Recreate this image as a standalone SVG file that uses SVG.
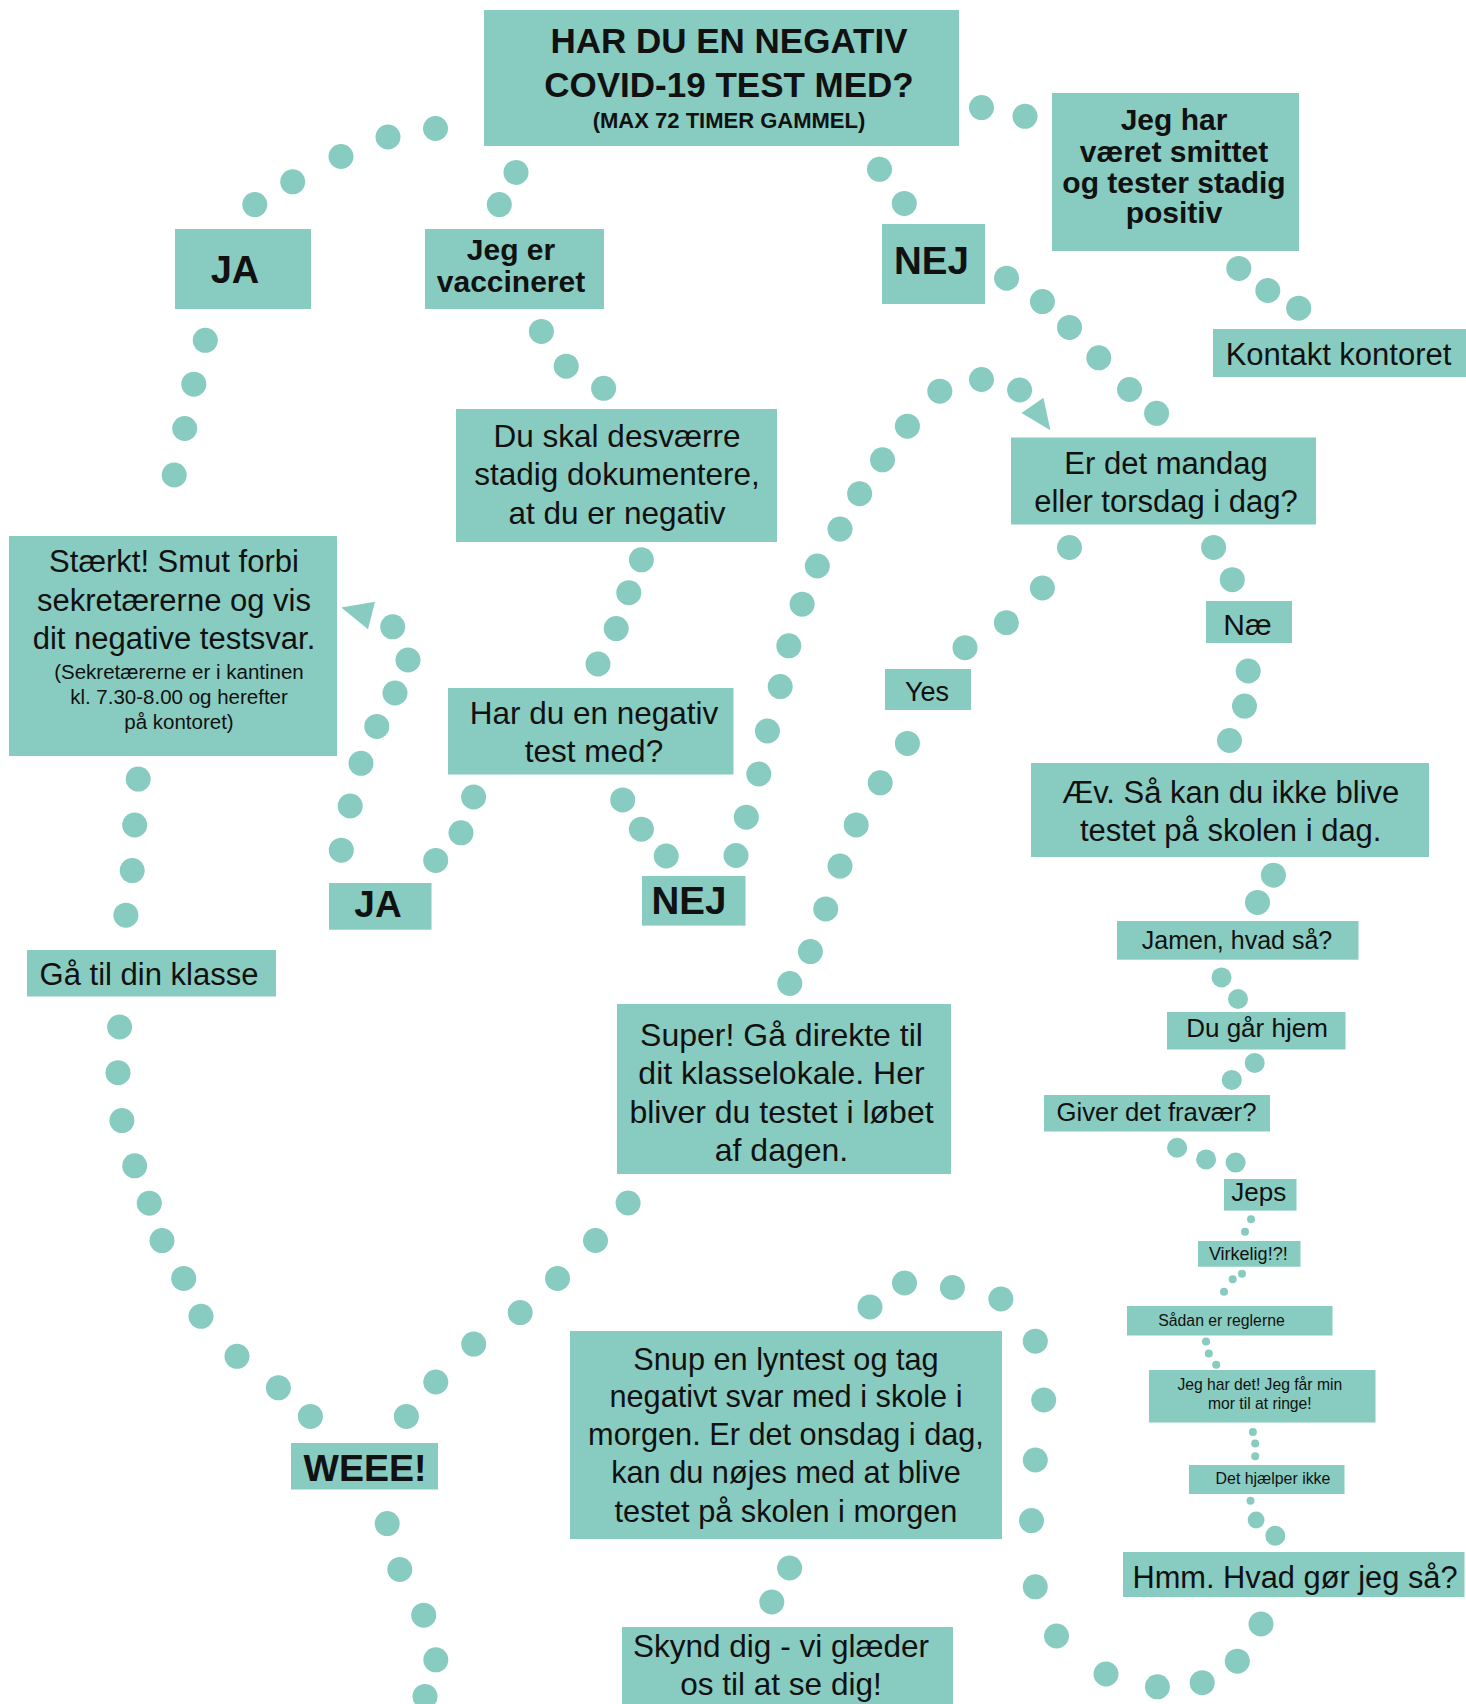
<svg xmlns="http://www.w3.org/2000/svg" width="1466" height="1704" viewBox="0 0 1466 1704">
<style>
.box{fill:#88cbc0}
.d{fill:#88cbc0}
text{font-family:"Liberation Sans",Arial,sans-serif;fill:#111;text-anchor:middle}
.b{font-weight:bold}
</style>
<rect width="1466" height="1704" fill="#fff"/>
<g id="connectors">
<g class="d">
<circle cx="254.8" cy="204.6" r="12.5"/><circle cx="292.7" cy="181.8" r="12.5"/><circle cx="341" cy="156.5" r="12.5"/><circle cx="388" cy="137" r="12.5"/><circle cx="435.5" cy="128.5" r="12.5"/>
<circle cx="205.3" cy="340.3" r="12.5"/><circle cx="193.8" cy="384.2" r="12.5"/><circle cx="184.7" cy="428.5" r="12.5"/><circle cx="174.2" cy="475" r="12.5"/>
<circle cx="516" cy="172.4" r="12.5"/><circle cx="499.3" cy="204.6" r="12.5"/>
<circle cx="541.4" cy="331.4" r="12.5"/><circle cx="566.2" cy="366.2" r="12.5"/><circle cx="603.6" cy="388.3" r="12.5"/>
<circle cx="641.4" cy="559.8" r="12.5"/><circle cx="628.8" cy="592.7" r="12.5"/><circle cx="616.2" cy="628.6" r="12.5"/><circle cx="598" cy="664" r="12.5"/>
<circle cx="473.6" cy="797" r="12.5"/><circle cx="461" cy="832.8" r="12.5"/><circle cx="435.7" cy="860.4" r="12.5"/>
<circle cx="341.3" cy="850.2" r="12.5"/><circle cx="350.2" cy="806" r="12.5"/><circle cx="361" cy="763.3" r="12.5"/><circle cx="376.8" cy="726.4" r="12.5"/><circle cx="395" cy="693" r="12.5"/><circle cx="408" cy="660" r="12.5"/><circle cx="392.7" cy="626.8" r="12.5"/>
<circle cx="622.7" cy="799.9" r="12.5"/><circle cx="641.4" cy="829.2" r="12.5"/><circle cx="666.2" cy="856" r="12.5"/>
<circle cx="736" cy="855.5" r="12.5"/><circle cx="746.3" cy="817.2" r="12.5"/><circle cx="758.8" cy="774" r="12.5"/><circle cx="767.4" cy="731" r="12.5"/><circle cx="780.2" cy="686.6" r="12.5"/><circle cx="788.8" cy="645.8" r="12.5"/><circle cx="802.1" cy="604.2" r="12.5"/><circle cx="817.3" cy="566" r="12.5"/><circle cx="840" cy="529.1" r="12.5"/><circle cx="859.6" cy="493.7" r="12.5"/><circle cx="882.5" cy="459.8" r="12.5"/><circle cx="907.4" cy="426.2" r="12.5"/><circle cx="939.8" cy="391.2" r="12.5"/><circle cx="981.5" cy="379.5" r="12.5"/><circle cx="1019.6" cy="390" r="12.5"/>
<circle cx="138.2" cy="779.1" r="12.5"/><circle cx="134.7" cy="825" r="12.5"/><circle cx="132.2" cy="870.6" r="12.5"/><circle cx="125.9" cy="915.2" r="12.5"/>
<circle cx="981.5" cy="107.6" r="12.5"/><circle cx="1025" cy="116.3" r="12.5"/>
<circle cx="879.5" cy="169.3" r="12.5"/><circle cx="904.3" cy="203.4" r="12.5"/>
<circle cx="1238.8" cy="268.4" r="12.5"/><circle cx="1267.8" cy="290.5" r="12.5"/><circle cx="1298.7" cy="308.2" r="12.5"/>
<circle cx="1006.6" cy="278.2" r="12.5"/><circle cx="1042.4" cy="301.6" r="12.5"/><circle cx="1069.5" cy="327.4" r="12.5"/><circle cx="1098.8" cy="357.8" r="12.5"/><circle cx="1129.5" cy="389.5" r="12.5"/><circle cx="1156.6" cy="413.3" r="12.5"/>
<circle cx="1069.5" cy="547.5" r="12.5"/><circle cx="1042.4" cy="588" r="12.5"/><circle cx="1006.4" cy="622.7" r="12.5"/><circle cx="965" cy="647.7" r="12.5"/>
<circle cx="907.4" cy="743.4" r="12.5"/><circle cx="880.2" cy="782.8" r="12.5"/><circle cx="856.2" cy="824.9" r="12.5"/><circle cx="840" cy="866.1" r="12.5"/><circle cx="825.7" cy="908.9" r="12.5"/><circle cx="810.4" cy="951.6" r="12.5"/><circle cx="789.8" cy="983.5" r="12.5"/>
<circle cx="1213.6" cy="547.4" r="12.5"/><circle cx="1232.3" cy="579.7" r="12.5"/>
<circle cx="1248.2" cy="671" r="12.5"/><circle cx="1244.5" cy="706.1" r="12.5"/><circle cx="1229.5" cy="740.5" r="12.5"/>
<circle cx="1273.4" cy="875.2" r="12.5"/><circle cx="1257.5" cy="902.4" r="12.5"/>
<circle cx="628.1" cy="1203" r="12.5"/><circle cx="595.5" cy="1240.5" r="12.5"/><circle cx="557.5" cy="1278.5" r="12.5"/><circle cx="520.2" cy="1312.6" r="12.5"/><circle cx="473.7" cy="1344.1" r="12.5"/><circle cx="435.8" cy="1382" r="12.5"/><circle cx="406.4" cy="1416.4" r="12.5"/>
<circle cx="119.6" cy="1027" r="12.5"/><circle cx="118" cy="1072.7" r="12.5"/><circle cx="121.9" cy="1120.6" r="12.5"/><circle cx="134.7" cy="1165.8" r="12.5"/><circle cx="149.3" cy="1203.2" r="12.5"/><circle cx="162" cy="1240.6" r="12.5"/><circle cx="183.7" cy="1278.4" r="12.5"/><circle cx="201" cy="1316.3" r="12.5"/><circle cx="237" cy="1356.3" r="12.5"/><circle cx="278.4" cy="1387.8" r="12.5"/><circle cx="310.4" cy="1416.4" r="12.5"/>
<circle cx="387.2" cy="1523.6" r="12.5"/><circle cx="399.8" cy="1569.5" r="12.5"/><circle cx="423.7" cy="1615.2" r="12.5"/><circle cx="435.8" cy="1659.8" r="12.5"/><circle cx="425" cy="1696.4" r="12.5"/>
<circle cx="1261" cy="1624" r="12.5"/><circle cx="1237.3" cy="1661.2" r="12.5"/><circle cx="1202.2" cy="1682.7" r="12.5"/><circle cx="1157.4" cy="1686.8" r="12.5"/><circle cx="1106" cy="1674" r="12.5"/><circle cx="1056.5" cy="1636" r="12.5"/><circle cx="1035.3" cy="1586.8" r="12.5"/><circle cx="1031.5" cy="1520.6" r="12.5"/><circle cx="1035.3" cy="1460" r="12.5"/><circle cx="1043.7" cy="1400" r="12.5"/><circle cx="1035.3" cy="1341.2" r="12.5"/><circle cx="1000.9" cy="1299" r="12.5"/><circle cx="952.4" cy="1287.5" r="12.5"/><circle cx="904.5" cy="1283" r="12.5"/><circle cx="870" cy="1307" r="12.5"/>
<circle cx="789.6" cy="1568" r="12.5"/><circle cx="771.8" cy="1602" r="12.5"/>
<circle cx="1221.5" cy="977.4" r="10"/><circle cx="1238" cy="999" r="10"/>
<circle cx="1254.7" cy="1062.9" r="10"/><circle cx="1231.8" cy="1079.9" r="10"/>
<circle cx="1177.1" cy="1147.7" r="10"/><circle cx="1206.1" cy="1159.4" r="10"/><circle cx="1235.6" cy="1162.6" r="10"/>
<circle cx="1251" cy="1219.3" r="4"/><circle cx="1245" cy="1231.7" r="4"/>
<circle cx="1242" cy="1273.7" r="4"/><circle cx="1232.7" cy="1279.3" r="4"/><circle cx="1224" cy="1291.7" r="4"/>
<circle cx="1206" cy="1341.5" r="4"/><circle cx="1208.8" cy="1353.4" r="4"/><circle cx="1216.2" cy="1364.8" r="4"/>
<circle cx="1252.9" cy="1432" r="4"/><circle cx="1255.2" cy="1443.6" r="4"/><circle cx="1255.2" cy="1456.2" r="4"/>
<circle cx="1250.5" cy="1500.7" r="4"/><circle cx="1256.1" cy="1520" r="8.4"/><circle cx="1275.3" cy="1535.7" r="10"/>
</g>
<polygon class="d" points="1021.5,412.9 1043.4,397.7 1050.4,430.3"/>
<polygon class="d" points="341.3,607.6 375,601.8 368,629.3"/>
</g>
<g id="n-title"><rect class="box" x="484" y="10" width="475" height="136"/>
<text class="b" x="729" y="53" font-size="35">HAR DU EN NEGATIV</text>
<text class="b" x="729" y="97" font-size="35">COVID-19 TEST MED?</text>
<text class="b" x="729" y="128" font-size="22">(MAX 72 TIMER GAMMEL)</text></g>
<g id="n-ja1"><rect class="box" x="175" y="229" width="136" height="80"/>
<text class="b" x="235" y="282.5" font-size="38">JA</text></g>
<g id="n-vacc"><rect class="box" x="425" y="229" width="179" height="80"/>
<text class="b" x="511" y="260" font-size="30">Jeg er</text>
<text class="b" x="511" y="291.5" font-size="30">vaccineret</text></g>
<g id="n-nej1"><rect class="box" x="882" y="224" width="103" height="80"/>
<text class="b" x="931.5" y="274" font-size="38.5">NEJ</text></g>
<g id="n-smittet"><rect class="box" x="1052" y="93" width="247" height="158"/>
<text class="b" x="1174" y="130" font-size="30">Jeg har</text>
<text class="b" x="1174" y="161.5" font-size="30">været smittet</text>
<text class="b" x="1174" y="192.5" font-size="30">og tester stadig</text>
<text class="b" x="1174" y="223" font-size="30">positiv</text></g>
<g id="n-kontakt"><rect class="box" x="1213" y="329" width="253" height="48"/>
<text x="1338.5" y="365" font-size="31">Kontakt kontoret</text></g>
<g id="n-duskal"><rect class="box" x="456" y="409" width="321" height="133"/>
<text x="617" y="446.5" font-size="31.5">Du skal desværre</text>
<text x="617" y="485" font-size="31.5">stadig dokumentere,</text>
<text x="617" y="524" font-size="31.5">at du er negativ</text></g>
<g id="n-erdet"><rect class="box" x="1011" y="437.5" width="305" height="87"/>
<text x="1166" y="473.5" font-size="31">Er det mandag</text>
<text x="1166" y="511.5" font-size="31">eller torsdag i dag?</text></g>
<g id="n-staerkt"><rect class="box" x="9" y="536" width="328" height="220"/>
<text x="174" y="571.7" font-size="31">Stærkt! Smut forbi</text>
<text x="174" y="610.5" font-size="31">sekretærerne og vis</text>
<text x="174" y="648.5" font-size="31">dit negative testsvar.</text>
<text x="179" y="678.5" font-size="20.5">(Sekretærerne er i kantinen</text>
<text x="179" y="703.8" font-size="20.5">kl. 7.30-8.00 og herefter</text>
<text x="179" y="729" font-size="20.5">på kontoret)</text></g>
<g id="n-hardu"><rect class="box" x="448" y="688" width="285.5" height="86.5"/>
<text x="594" y="723.7" font-size="31.5">Har du en negativ</text>
<text x="594" y="762" font-size="31.5">test med?</text></g>
<g id="n-ja2"><rect class="box" x="329" y="883" width="102.5" height="46.7"/>
<text class="b" x="378" y="916.5" font-size="37">JA</text></g>
<g id="n-nej2"><rect class="box" x="642" y="876" width="103.5" height="49.6"/>
<text class="b" x="689" y="914" font-size="38.5">NEJ</text></g>
<g id="n-gatil"><rect class="box" x="27" y="950" width="249" height="46.5"/>
<text x="149" y="985" font-size="31">Gå til din klasse</text></g>
<g id="n-yes"><rect class="box" x="885" y="669" width="86" height="41"/>
<text x="927" y="700.5" font-size="27">Yes</text></g>
<g id="n-nae"><rect class="box" x="1206" y="601" width="86" height="42"/>
<text x="1247.5" y="634.7" font-size="30">Næ</text></g>
<g id="n-aev"><rect class="box" x="1031" y="763" width="398" height="94"/>
<text x="1230.7" y="802.5" font-size="31">Æv. Så kan du ikke blive</text>
<text x="1230.7" y="841" font-size="31">testet på skolen i dag.</text></g>
<g id="n-jamen"><rect class="box" x="1117" y="921" width="241.5" height="38.7"/>
<text x="1237" y="949" font-size="25">Jamen, hvad så?</text></g>
<g id="n-dugaar"><rect class="box" x="1167" y="1012" width="178.5" height="37.5"/>
<text x="1257" y="1037.3" font-size="26">Du går hjem</text></g>
<g id="n-giver"><rect class="box" x="1044" y="1095" width="226" height="36.5"/>
<text x="1156.5" y="1120.8" font-size="25.7">Giver det fravær?</text></g>
<g id="n-jeps"><rect class="box" x="1224" y="1179" width="72.5" height="31.6"/>
<text x="1258.7" y="1201" font-size="26">Jeps</text></g>
<g id="n-virkelig"><rect class="box" x="1198" y="1241" width="102.5" height="25.7"/>
<text x="1248.3" y="1259.6" font-size="18">Virkelig!?!</text></g>
<g id="n-saadan"><rect class="box" x="1127" y="1306" width="205.5" height="29.5"/>
<text x="1221.5" y="1325.9" font-size="15.8">Sådan er reglerne</text></g>
<g id="n-mor"><rect class="box" x="1149" y="1370" width="226.5" height="52.5"/>
<text x="1259.8" y="1390" font-size="15.7">Jeg har det! Jeg får min</text>
<text x="1259.8" y="1408.8" font-size="15.7">mor til at ringe!</text></g>
<g id="n-dethj"><rect class="box" x="1189" y="1465" width="155.5" height="29"/>
<text x="1273" y="1484.2" font-size="15.9">Det hjælper ikke</text></g>
<g id="n-hmm"><rect class="box" x="1123" y="1552" width="341.5" height="45"/>
<text x="1295" y="1588.3" font-size="30.8">Hmm. Hvad gør jeg så?</text></g>
<g id="n-super"><rect class="box" x="617" y="1004" width="334" height="170"/>
<text x="781.5" y="1046" font-size="32">Super! Gå direkte til</text>
<text x="781.5" y="1084.3" font-size="32">dit klasselokale. Her</text>
<text x="781.5" y="1122.7" font-size="32">bliver du testet i løbet</text>
<text x="781.5" y="1160.5" font-size="32">af dagen.</text></g>
<g id="n-snup"><rect class="box" x="570" y="1331" width="432" height="208"/>
<text x="786" y="1370" font-size="30.7">Snup en lyntest og tag</text>
<text x="786" y="1406.7" font-size="30.7">negativt svar med i skole i</text>
<text x="786" y="1445" font-size="30.7">morgen. Er det onsdag i dag,</text>
<text x="786" y="1483.3" font-size="30.7">kan du nøjes med at blive</text>
<text x="786" y="1521.5" font-size="30.7">testet på skolen i morgen</text></g>
<g id="n-skynd"><rect class="box" x="622" y="1627" width="331" height="77"/>
<text x="781" y="1656.5" font-size="31.5">Skynd dig - vi glæder</text>
<text x="781" y="1695" font-size="31.5">os til at se dig!</text></g>
<g id="n-weee"><rect class="box" x="291" y="1443" width="147" height="46.5"/>
<text class="b" x="365" y="1480.5" font-size="37.5">WEEE!</text></g>
</svg>
